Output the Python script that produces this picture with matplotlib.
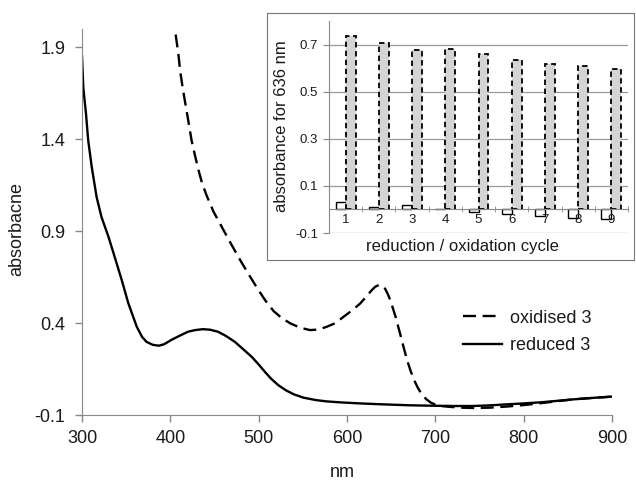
import matplotlib
matplotlib.use("Agg")
import matplotlib.pyplot as plt

plt.rcParams['font.family'] = ['Liberation Sans', 'DejaVu Sans']
plt.rcParams['axes.unicode_minus'] = False

# spectra
red_nm = [300, 301.5, 304.5, 307, 311, 316.5, 322, 330, 337, 345, 352.5, 362, 368,
          373, 380, 387, 393, 401, 410, 420, 428, 437, 445, 454, 463, 473, 482,
          492, 500, 507, 514, 522, 531, 540, 551, 565, 577, 595, 615, 635, 652,
          670, 690, 705, 720, 743, 760, 781, 800, 819, 838, 856, 878, 900]
red_abs = [1.85, 1.68, 1.54, 1.395, 1.25, 1.087, 0.978, 0.869, 0.76, 0.634, 0.507,
           0.38, 0.325, 0.298, 0.282, 0.277, 0.285, 0.308, 0.33, 0.353, 0.362,
           0.367, 0.364, 0.353, 0.33, 0.298, 0.26, 0.217, 0.175, 0.135, 0.098,
           0.063, 0.034, 0.012, -0.006, -0.019, -0.026, -0.032, -0.037, -0.041,
           -0.044, -0.047, -0.049, -0.05, -0.051, -0.051, -0.048, -0.042, -0.037,
           -0.031, -0.023, -0.015, -0.007, 0.0]

ox_nm = [406, 409, 411, 414, 417, 420, 424, 428, 432, 436, 441, 445, 449, 455,
         462, 470, 480, 490, 499, 508, 517, 526, 536, 547, 558, 568, 577, 587,
         596, 606, 615, 622, 628, 632, 636, 640, 643, 646, 649, 652, 655, 658,
         661, 664, 668, 672, 676, 680, 685, 690, 695, 700, 706, 717, 730, 743,
         762, 781, 800, 819, 838, 856, 878, 900]
ox_abs = [1.97, 1.87, 1.775, 1.68, 1.594, 1.51, 1.395, 1.31, 1.23, 1.16, 1.095,
          1.05, 1.005, 0.952, 0.89, 0.82, 0.735, 0.655, 0.585, 0.52, 0.465, 0.428,
          0.398, 0.375, 0.362, 0.365, 0.38, 0.40, 0.434, 0.47, 0.507, 0.545, 0.579,
          0.598, 0.607, 0.604, 0.588, 0.56, 0.525, 0.48, 0.434, 0.38, 0.326, 0.27,
          0.199, 0.14, 0.09, 0.05, 0.009, -0.015, -0.033, -0.043, -0.051, -0.056,
          -0.06, -0.062, -0.06, -0.054, -0.046, -0.036, -0.025, -0.015, -0.007, 0.0]

# inset: absorbance at 636 nm per cycle
cycles = [1, 2, 3, 4, 5, 6, 7, 8, 9]
cyc_reduced = [0.030, 0.011, 0.018, 0.002, -0.010, -0.020, -0.028, -0.036, -0.042]
cyc_oxidised = [0.736, 0.707, 0.678, 0.683, 0.658, 0.636, 0.619, 0.610, 0.596]

grey = '#888888'
txt = '#1a1a1a'

fig = plt.figure(figsize=(6.36, 4.82), dpi=100)

# main spectrum
ax = fig.add_axes([82/636, 1-415/482, 530/636, 386/482])
ax.plot(ox_nm, ox_abs, color='black', lw=1.7, dashes=(5.5, 2.8), label='oxidised 3')
ax.plot(red_nm, red_abs, color='black', lw=1.7, label='reduced 3')
ax.set_xlim(300, 900)
ax.set_ylim(-0.1, 2.0)
ax.set_xticks([300, 400, 500, 600, 700, 800, 900])
ax.set_yticks([-0.1, 0.4, 0.9, 1.4, 1.9])
ax.set_yticklabels(['-0.1', '0.4', '0.9', '1.4', '1.9'])
for s in ['top', 'right']:
    ax.spines[s].set_visible(False)
for s in ['left', 'bottom']:
    ax.spines[s].set_color(grey)
ax.tick_params(axis='both', colors=grey, labelcolor=txt, labelsize=13, length=5, width=1)
ax.tick_params(axis='y', pad=7)
ax.tick_params(axis='x', pad=6)
ax.set_xlabel('nm', fontsize=13, color=txt)
ax.set_ylabel('absorbacne', fontsize=13, color=txt)
ax.xaxis.set_label_coords((342-82)/530, -0.128)
ax.yaxis.set_label_coords(-0.107, 0.482)
ax.legend(loc='center left', bbox_to_anchor=(463/636, 1-332/482),
          bbox_transform=fig.transFigure, frameon=False, fontsize=13,
          handlelength=2.15, handletextpad=0.45, labelspacing=0.6,
          borderpad=0, borderaxespad=0, labelcolor=txt)

# inset frame
box = fig.add_axes([267/636, 1-260/482, 367/636, 247/482])
box.set_xticks([])
box.set_yticks([])
for s in box.spines.values():
    s.set_color('#777777')

# inset bar chart
ins = fig.add_axes([329/636, 1-233/482, 299/636, 212/482])
ins.patch.set_alpha(0)
for gy in [-0.1, 0.1, 0.3, 0.5, 0.7]:
    ins.axhline(gy, color='#9a9a9a', lw=0.9, zorder=1)
w = 0.3
ins.bar([c - 0.15 for c in cycles], cyc_reduced, width=w, facecolor='white',
        edgecolor='black', lw=1.0, zorder=2)
ins.bar([c + 0.15 for c in cycles], cyc_oxidised, width=w, facecolor='#d4d4d4',
        edgecolor='black', lw=1.3, linestyle=(0, (3, 2)), zorder=2)
ins.set_axisbelow(False)
ins.set_xlim(0.5, 9.5)
ins.set_ylim(-0.1, 0.8)
ins.set_yticks([-0.1, 0.1, 0.3, 0.5, 0.7])
ins.set_yticklabels(['-0.1', '0.1', '0.3', '0.5', '0.7'])
ins.set_xticks(cycles)
ins.set_xticks([c - 0.5 for c in cycles] + [9.5], minor=True)
for s in ['top', 'right']:
    ins.spines[s].set_visible(False)
ins.spines['left'].set_color(grey)
ins.spines['bottom'].set_color(grey)
ins.spines['bottom'].set_position(('data', 0))
ins.tick_params(axis='y', colors=grey, labelcolor=txt, labelsize=9.5, length=4, pad=4)
ins.tick_params(axis='x', which='major', length=0, labelcolor=txt, labelsize=9.5, pad=3.5)
ins.tick_params(axis='x', which='minor', colors=grey, direction='inout', length=5)
fig.text(462/636, 1-247/482, 'reduction / oxidation cycle', fontsize=12,
         color=txt, ha='center', va='center')
fig.text(282/636, 1-126/482, 'absorbance for 636 nm', fontsize=12,
         color=txt, ha='center', va='center', rotation=90)

fig.savefig('out.png', dpi=100)
